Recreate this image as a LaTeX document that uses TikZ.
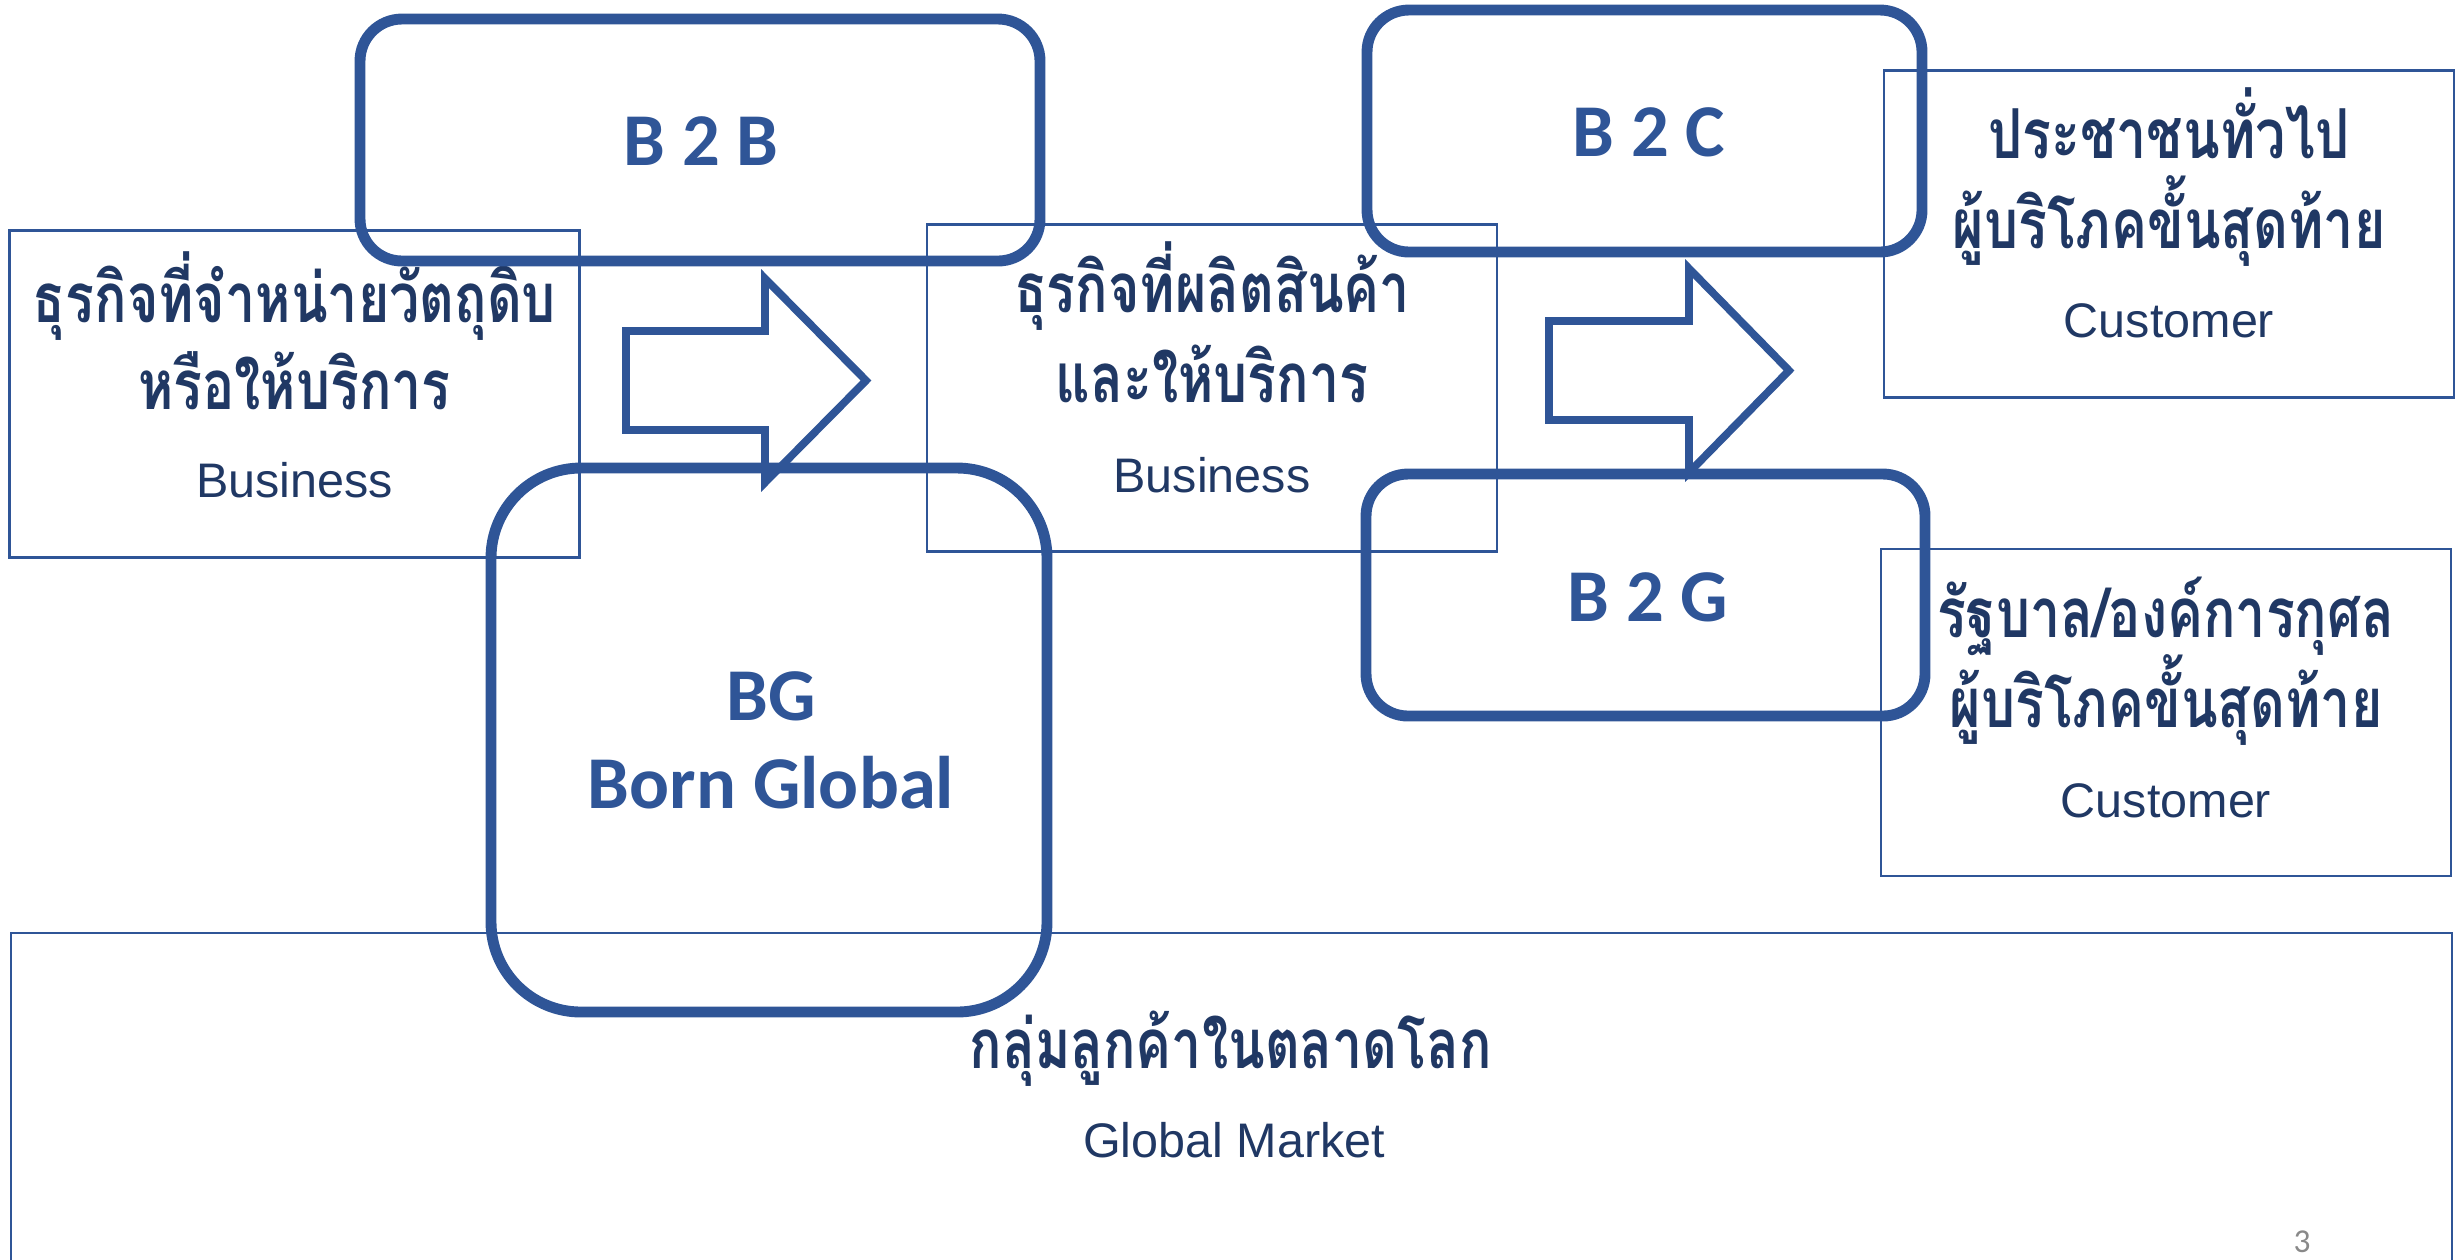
\documentclass[tikz,border=0pt]{standalone}
\usepackage{fontspec}
\usepackage{xcolor}
\setmainfont{Liberation Sans}
\newfontfamily\thaifont[Script=Thai, FakeStretch=0.78]{Loma}
\newfontfamily\tagfont{Carlito}

\definecolor{boxblue}{HTML}{2F5597}
\definecolor{navy}{HTML}{203864}
\definecolor{pagegray}{HTML}{898989}

\tikzset{
  thinbox/.style={draw=boxblue, line width=0.75pt, inner sep=0pt,
    minimum width=57mm, minimum height=32.7mm},
  roundbox/.style={draw=boxblue, line width=3.1pt, inner sep=0pt,
    rounded corners=4.2mm, minimum height=24.2mm},
  bigarrow/.style={draw=boxblue, line width=2.2pt, line join=miter},
  thaitext/.style={anchor=base, inner sep=0pt, text=navy,
    font=\thaifont\bfseries\fontsize{19.6}{19.6}\selectfont},
  engtext/.style={anchor=base, inner sep=0pt, text=navy,
    font=\fontsize{13.8}{13.8}\selectfont},
  tagtext/.style={anchor=base, inner sep=0pt, text=boxblue,
    font=\tagfont\bfseries\fontsize{21.2}{21.2}\selectfont},
}

\begin{document}
\begin{tikzpicture}[x=0.1mm, y=-0.1mm]
  \useasboundingbox (0,0) rectangle (2461,1259);

  %% plain boxes
  \node[thinbox] (supplier) at (294.5,394) {};
  \node[thinbox] (maker)    at (1212,388)  {};
  \node[thinbox] (public)   at (2169,234)  {};
  \node[thinbox] (gov)      at (2166,712.5) {};
  \node[thinbox, minimum width=244.1mm, minimum height=36.7mm] (market) at (1231.5,1116.5) {};

  % supplier
  \node[thaitext] (supplier1) at (294.5,322) {ธุรกิจที่จำหน่ายวัตถุดิบ};
  \node[thaitext] (supplier2) at (294.5,409) {หรือให้บริการ};
  \node[engtext]  (supplier3) at (294.5,497) {Business};

  % maker
  \node[thaitext] (maker1) at (1212,312) {ธุรกิจที่ผลิตสินค้า};
  \node[thaitext] (maker2) at (1212,402) {และให้บริการ};
  \node[engtext]  (maker3) at (1212,492) {Business};

  % public
  \node[thaitext] (public1) at (2169,158) {ประชาชนทั่วไป};
  \node[thaitext] (public2) at (2169,248) {ผู้บริโภคขั้นสุดท้าย};
  \node[engtext]  (public3) at (2169,337) {Customer};

  % gov
  \node[thaitext] (gov1) at (2166,637) {รัฐบาล/องค์การกุศล};
  \node[thaitext] (gov2) at (2166,727) {ผู้บริโภคขั้นสุดท้าย};
  \node[engtext]  (gov3) at (2166,817) {Customer};

  % market
  \node[thaitext] (market1) at (1231,1068) {กลุ่มลูกค้าในตลาดโลก};
  \node[engtext]  (market2) at (1234,1157) {Global Market};

  %% rounded boxes
  \node[roundbox, minimum width=68mm]   (btob) at (700,140)    {};
  \node[roundbox, minimum width=55.5mm] (btoc) at (1644.5,131) {};
  \node[roundbox, minimum width=55.9mm] (btog) at (1645.5,595) {};
  \node[roundbox, minimum width=55.6mm, minimum height=54.4mm,
        rounded corners=9mm] (born) at (769,740) {};

  \node[tagtext] (btobtag) at (701,165)  {B 2 B};
  \node[tagtext] (btoctag) at (1649,156) {B 2 C};
  \node[tagtext] (btogtag) at (1648,621) {B 2 G};
  \node[tagtext] (borntag1) at (771,720) {BG};
  \node[tagtext] (borntag2) at (771,808) {Born Global};

  %% arrows
  \coordinate (arrowA) at (626,380.5);
  \draw[bigarrow] (arrowA) ++(0,-49.5) -- ++(139,0) -- ++(0,-52.5)
    -- ++(101,102) -- ++(-101,102) -- ++(0,-52.5) -- ++(-139,0) -- cycle;

  \coordinate (arrowB) at (1549,370.5);
  \draw[bigarrow] (arrowB) ++(0,-49.5) -- ++(140,0) -- ++(0,-52.5)
    -- ++(100,102) -- ++(-100,102) -- ++(0,-52.5) -- ++(-140,0) -- cycle;

  % page number
  \node[anchor=base, inner sep=0pt, text=pagegray,
        font=\tagfont\fontsize{9.5}{9.5}\selectfont] (pagenum) at (2302,1252) {3};
\end{tikzpicture}
\end{document}
